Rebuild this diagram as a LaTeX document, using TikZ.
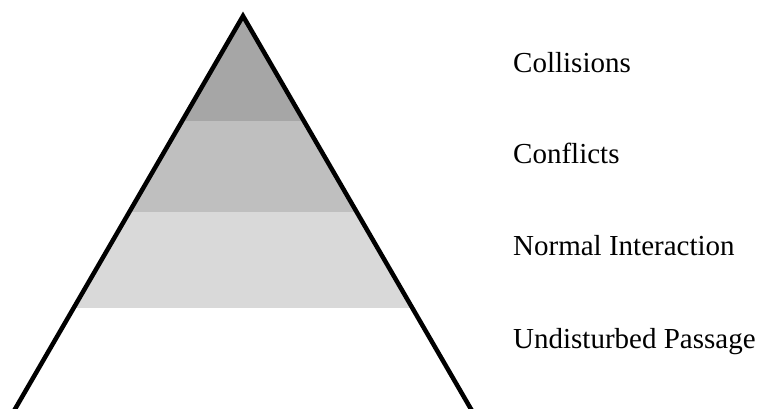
\documentclass[tikz,border=0pt]{standalone}
\usepackage{fontspec}
\setmainfont{Liberation Serif}

\begin{document}
\begin{tikzpicture}[x = 1pt, y = -1pt, levelname/.style = {anchor = base west, inner sep = 0pt, font = \fontsize{29}{34}\selectfont}]
	\useasboundingbox (0, 0) rectangle (760, 408);
	\clip (0, 0) rectangle (760, 408);
	
	\begin{scope}
	\clip (243, 16) -- (-6.4, 446) -- (492.4, 446) -- cycle;
	\fill[black!35!white] (0, 0) rectangle (760, 121);
	\fill[black!25!white] (0, 121) rectangle (760, 212);
	\fill[black!15!white] (0, 212) rectangle (760, 308);
	\end{scope}
	
	\draw[line width = 4.5pt] (-6.4, 446) -- (243, 16) -- (492.4, 446);
	
	\node[levelname] (collisions) at (513, 72) {Collisions};
	\node[levelname] (conflicts) at (513, 163) {Conflicts};
	\node[levelname] (interaction) at (513, 255) {Normal Interaction};
	\node[levelname] (passage) at (513, 348) {Undisturbed Passage};
\end{tikzpicture}
\end{document}
